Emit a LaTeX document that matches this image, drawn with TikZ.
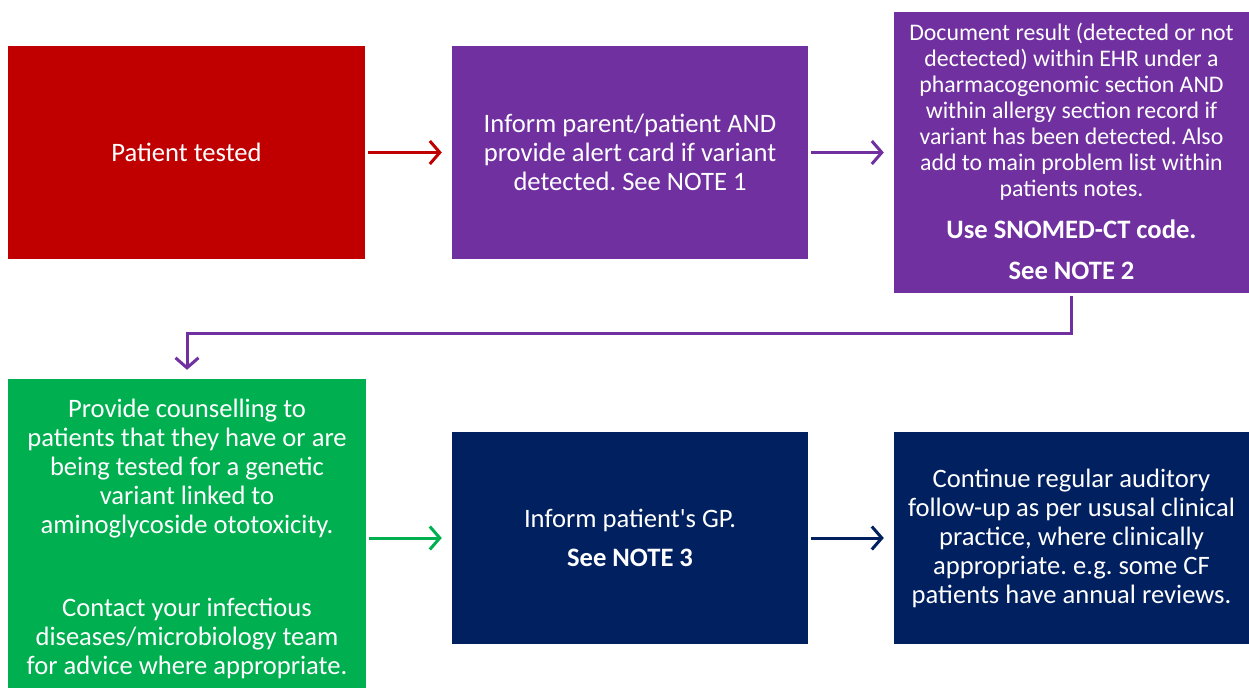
\documentclass[tikz,border=0pt]{standalone}
\usepackage{fontspec}
\setmainfont{Carlito}[Ligatures=TeXOff]
\frenchspacing
\usetikzlibrary{arrows.meta}
\definecolor{cred}{HTML}{C00000}
\definecolor{cpurple}{HTML}{7030A0}
\definecolor{cgreen}{HTML}{00B050}
\definecolor{cnavy}{HTML}{002060}
\tikzset{
  box/.style={rectangle, draw=none, text=white, align=center, inner sep=0pt,
    font=\fontsize{26.6}{29}\selectfont},
  tip/.style={-{Straight Barb[length=10pt,width=23pt,line width=3pt]}},
  conn/.style={line width=3pt, tip, shorten <=3pt, shorten >=10pt},
}
\newcommand{\bigbold}[1]{{\fontsize{26.6}{29}\selectfont\bfseries #1}}
\begin{document}
\begin{tikzpicture}[x=1pt,y=-1pt]
\useasboundingbox (0,0) rectangle (1249,688);
% boxes
\node[box, fill=cred, minimum width=357pt, minimum height=213pt] (red) at (186.5,152.5) {Patient tested};
\node[box, fill=cpurple, minimum width=356pt, minimum height=213pt] (p1) at (630,152.5)
  {Inform parent/patient AND\\provide alert card if variant\\detected. See NOTE 1};
\node[box, fill=cpurple, minimum width=355pt, minimum height=281pt] (p2) at (1071.5,152.5) {};
\node[box, font=\fontsize{23.8}{26}\selectfont] (p2t) at (1071.5,151.5)
  {Document result (detected or not\\dectected) within EHR under a\\pharmacogenomic section AND\\within allergy section record if\\variant has been detected. Also\\add to main problem list within\\patients notes.\\[16pt]\bigbold{Use SNOMED-CT code.}\\[15pt]\bigbold{See NOTE 2}};
\node[box, fill=cgreen, minimum width=358pt, minimum height=309pt] (g) at (187,533.5) {};
\node[box, anchor=north] (gt) at (187,399)
  {Provide counselling to\\patients that they have or are\\being tested for a genetic\\variant linked to\\aminoglycoside ototoxicity.\\[54pt]Contact your infectious\\diseases/microbiology team\\for advice where appropriate.};
\node[box, fill=cnavy, minimum width=356pt, minimum height=212pt] (n1) at (630,538)
  {Inform patient's GP.\\[10pt]\textbf{See NOTE 3}};
\node[box, fill=cnavy, minimum width=355pt, minimum height=212pt] (n2) at (1071.5,538)
  {Continue regular auditory\\follow-up as per ususal clinical\\practice, where clinically\\appropriate. e.g. some CF\\patients have annual reviews.};
% connectors
\draw[conn, cred] (red.east) -- (p1.west);
\draw[conn, cpurple] (p1.east) -- (p2.west |- p1.east);
\draw[cpurple, line width=3pt, tip, shorten <=3pt, shorten >=9pt]
  (p2.south) -- ++(0,40) -| (g.north);
\draw[conn, cgreen] (g.east |- n1.west) -- (n1.west);
\draw[conn, cnavy] (n1.east) -- (n2.west);
\end{tikzpicture}
\end{document}
